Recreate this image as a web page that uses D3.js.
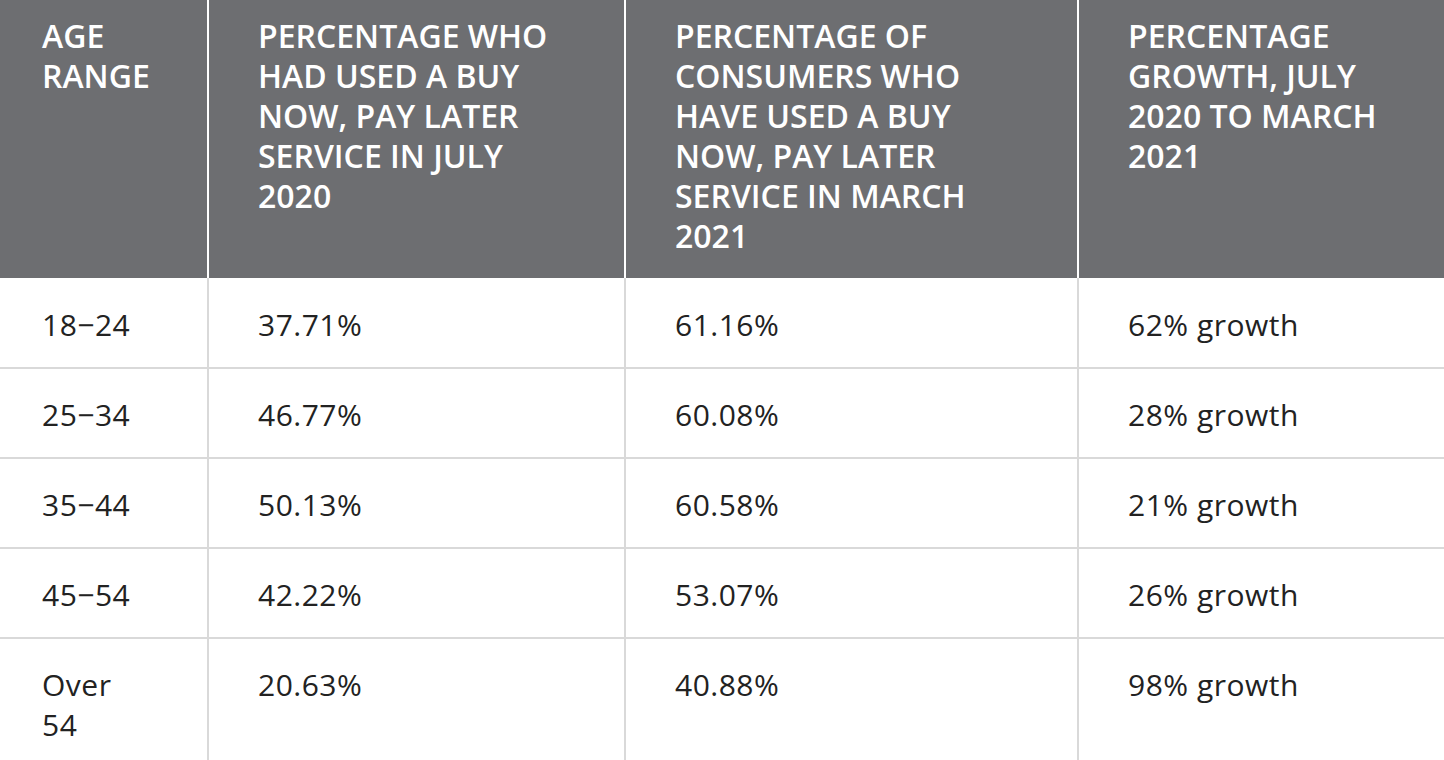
<!DOCTYPE html>
<html><head><meta charset="utf-8">
<script src="https://cdn.jsdelivr.net/npm/d3@7"></script>
<style>body{margin:0;background:#fff}</style>
</head><body><svg width="1444" height="760"></svg>
<script>
var headers = [
  ["AGE", "RANGE"],
  ["PERCENTAGE WHO", "HAD USED A BUY", "NOW, PAY LATER", "SERVICE IN JULY", "2020"],
  ["PERCENTAGE OF", "CONSUMERS WHO", "HAVE USED A BUY", "NOW, PAY LATER", "SERVICE IN MARCH", "2021"],
  ["PERCENTAGE", "GROWTH, JULY", "2020 TO MARCH", "2021"]
];
var ages = [["18\u221224"], ["25\u221234"], ["35\u221244"], ["45\u221254"], ["Over", "54"]];
var july2020 = ["37.71%", "46.77%", "50.13%", "42.22%", "20.63%"];
var march2021 = ["61.16%", "60.08%", "60.58%", "53.07%", "40.88%"];
var growth = ["62% growth", "28% growth", "21% growth", "26% growth", "98% growth"];

var colEdges = [0, 208, 625, 1078, 1444];
var textPad = [42, 50, 50, 50];
var headH = 278, rowH = 90;

var svg = d3.select("svg");

svg.append("rect").attr("x", 0).attr("y", 0).attr("width", 1444).attr("height", headH)
  .attr("fill", "#6d6e71");

// column separators
svg.selectAll("line.v").data(colEdges.slice(1, 4)).enter().append("line")
  .attr("x1", function(d){return d;}).attr("x2", function(d){return d;})
  .attr("y1", 0).attr("y2", headH).attr("stroke", "#fff").attr("stroke-width", 2);
svg.selectAll("line.vb").data(colEdges.slice(1, 4)).enter().append("line")
  .attr("x1", function(d){return d;}).attr("x2", function(d){return d;})
  .attr("y1", headH).attr("y2", 760).attr("stroke", "#d9d9d9").attr("stroke-width", 2);

// row separators
svg.selectAll("line.h").data(d3.range(1, 5)).enter().append("line")
  .attr("x1", 0).attr("x2", 1444)
  .attr("y1", function(d){return headH + d * rowH;}).attr("y2", function(d){return headH + d * rowH;})
  .attr("stroke", "#d9d9d9").attr("stroke-width", 2);

headers.forEach(function(lines, c){
  var t = svg.append("text").attr("x", colEdges[c] + textPad[c]).attr("y", 48)
    .attr("fill", "#fff").style("font-family", "'Open Sans', sans-serif")
    .style("font-size", "32px").style("font-weight", 600);
  t.selectAll("tspan").data(lines).enter().append("tspan")
    .attr("x", colEdges[c] + textPad[c]).attr("dy", function(d,i){return i ? 40 : 0;})
    .text(function(d){return d;});
});

var rows = ages.map(function(a, i){ return [a, [july2020[i]], [march2021[i]], [growth[i]]]; });
rows.forEach(function(row, r){
  row.forEach(function(lines, c){
    var t = svg.append("text").attr("x", colEdges[c] + textPad[c]).attr("y", headH + r * rowH + 58)
      .attr("fill", "#222").style("font-family", "'Open Sans', sans-serif")
      .style("font-size", "30px").style("letter-spacing", "0.5px");
    t.selectAll("tspan").data(lines).enter().append("tspan")
      .attr("x", colEdges[c] + textPad[c]).attr("dy", function(d,i){return i ? 40 : 0;})
      .text(function(d){return d;});
  });
});
</script></body></html>
